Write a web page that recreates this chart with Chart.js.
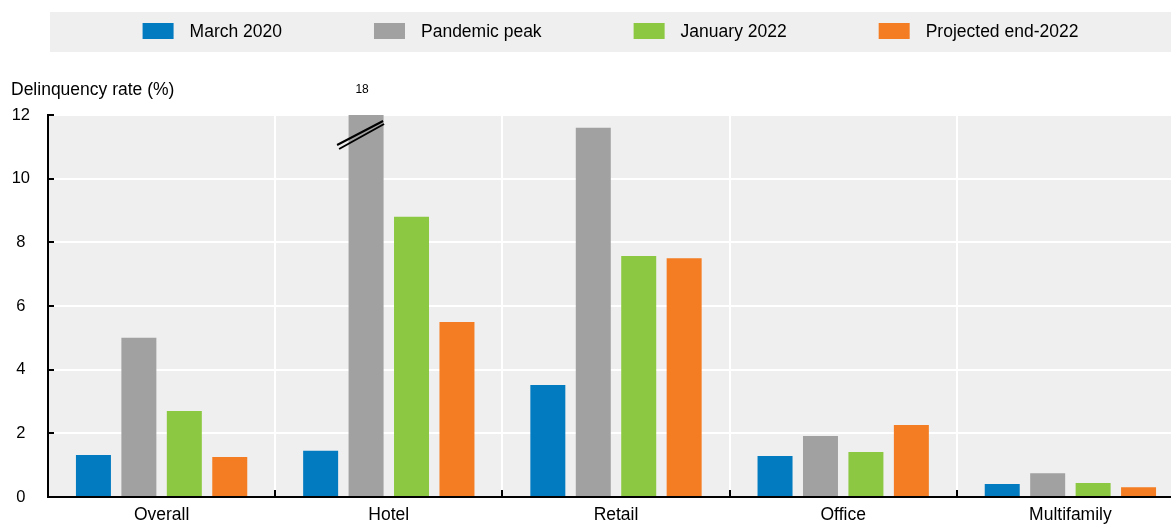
<!DOCTYPE html>
<html lang="en">
<head>
<meta charset="UTF-8">
<title>CRE delinquency</title>
<style>
  html, body { margin: 0; padding: 0; overflow: hidden; background: #fff; }
  #wrap { width: 1184px; height: 525px; }
</style>
</head>
<body>
<div id="wrap"><canvas id="myChart"></canvas></div>
<script src="https://cdn.jsdelivr.net/npm/chart.js"></script>
<script>
    // values
    var categories = ['Overall', 'Hotel', 'Retail', 'Office', 'Multifamily'];
    var march2020 = [1.32, 1.45, 3.52, 1.29, 0.41];
    var pandemicPeak = [5.0, 18, 11.6, 1.92, 0.75];
    var january2022 = [2.7, 8.8, 7.57, 1.41, 0.44];
    var projectedEnd2022 = [1.26, 5.5, 7.5, 2.26, 0.31];
    var yTicks = [0, 2, 4, 6, 8, 10, 12];

    var FONT = "'Liberation Sans', Arial, sans-serif";
    var FS = 17.5;
    Chart.defaults.font.family = FONT;
    Chart.defaults.color = '#000';

    // grey legend strip on top
    var legendBox = {
        id: 'legendBox',
        beforeDraw: function(chart) {
            var ctx = chart.ctx;
            var left = chart.chartArea.left + 2;
            ctx.save();
            ctx.fillStyle = '#efefef';
            ctx.fillRect(left, 12, chart.width - left, 40);
            ctx.font = FS + 'px ' + FONT;
            ctx.textBaseline = 'middle';
            var sw = 31, gapIn = 16, gapOut = 92;
            var sets = chart.data.datasets;
            var total = 0;
            sets.forEach(function(d, i) {
                total += sw + gapIn + ctx.measureText(d.label).width + (i < sets.length - 1 ? gapOut : 0);
            });
            var x = (left + 1171) / 2 - total / 2;
            sets.forEach(function(d) {
                ctx.fillStyle = d.backgroundColor;
                ctx.fillRect(x, 23, sw, 16);
                ctx.fillStyle = '#000';
                ctx.fillText(d.label, x + sw + gapIn, 32);
                x += sw + gapIn + ctx.measureText(d.label).width + gapOut;
            });
            ctx.restore();
        }
    };

    // inward tick marks on both axes, break marks + label for the clipped bar
    var extras = {
        id: 'extras',
        afterDatasetsDraw: function(chart) {
            var ctx = chart.ctx, ca = chart.chartArea;
            var ys = chart.scales.y, xs = chart.scales.x;
            ctx.save();
            ctx.strokeStyle = '#000';
            ctx.lineWidth = 2;
            ctx.beginPath();
            yTicks.forEach(function(t) {
                var py = Math.round(ys.getPixelForValue(t));
                ctx.moveTo(ca.left, py);
                ctx.lineTo(ca.left + 6, py);
            });
            for (var i = 1; i < categories.length; i++) {
                var px = Math.round((xs.getPixelForValue(i - 1) + xs.getPixelForValue(i)) / 2);
                ctx.moveTo(px, ca.bottom);
                ctx.lineTo(px, ca.bottom - 7);
            }
            ctx.stroke();

            // hotel pandemic peak goes off the scale
            var meta = chart.getDatasetMeta(1);
            pandemicPeak.forEach(function(v, i) {
                if (v <= ys.max) return;
                var bar = meta.data[i];
                ctx.lineWidth = 2;
                ctx.beginPath();
                ctx.moveTo(bar.x - 29, ca.top + 30);
                ctx.lineTo(bar.x + 17, ca.top + 6);
                ctx.moveTo(bar.x - 27, ca.top + 34);
                ctx.lineTo(bar.x + 18, ca.top + 9);
                ctx.stroke();
                ctx.fillStyle = '#000';
                ctx.font = '12px ' + FONT;
                ctx.textAlign = 'center';
                ctx.textBaseline = 'middle';
                ctx.fillText(String(v), bar.x - 4, ca.top - 25);
            });
            ctx.restore();
        }
    };

    var plotBg = {
        id: 'plotBg',
        beforeDraw: function(chart) {
            var ca = chart.chartArea, ctx = chart.ctx;
            ctx.save();
            ctx.fillStyle = '#efefef';
            ctx.fillRect(ca.left, ca.top, ca.right - ca.left, ca.bottom - ca.top);
            ctx.restore();
        }
    };

    var data = {
        labels: categories,
        datasets: [{
            label: 'March 2020',
            data: march2020,
            backgroundColor: '#037bc1'
        }, {
            label: 'Pandemic peak',
            data: pandemicPeak,
            backgroundColor: '#a1a1a1'
        }, {
            label: 'January 2022',
            data: january2022,
            backgroundColor: '#8cc841'
        }, {
            label: 'Projected end-2022',
            data: projectedEnd2022,
            backgroundColor: '#f47d23'
        }]
    };

    var config = {
        type: 'bar',
        data: data,
        options: {
            responsive: true,
            maintainAspectRatio: false,
            animation: false,
            layout: { padding: { left: 11, right: 0, top: 0, bottom: 0 } },
            datasets: {
                bar: { categoryPercentage: 0.8, barPercentage: 0.77 }
            },
            plugins: {
                legend: { display: false },
                tooltip: { enabled: false },
                title: {
                    display: true,
                    text: 'Delinquency rate (%)',
                    align: 'start',
                    color: '#000',
                    font: { size: FS, weight: 'normal', lineHeight: 1.2 },
                    padding: { top: 80, bottom: 14 }
                }
            },
            scales: {
                x: {
                    afterFit: function(scale) { scale.height = 28; },
                    grid: { color: '#fff', lineWidth: 2, offset: true, drawTicks: false },
                    border: { color: '#000', width: 2 },
                    ticks: { font: { size: FS, lineHeight: 1 }, padding: 9, color: '#000' }
                },
                y: {
                    min: 0,
                    max: 12,
                    afterBuildTicks: function(scale) {
                        scale.ticks = yTicks.map(function(v) { return { value: v }; });
                    },
                    afterFit: function(scale) { scale.width = 37; },
                    grid: { color: '#fff', lineWidth: 2, drawTicks: false },
                    border: { color: '#000', width: 2 },
                    ticks: { font: { size: 16.5 }, padding: 18, crossAlign: 'center', color: '#000' }
                }
            }
        },
        plugins: [plotBg, legendBox, extras]
    };

    var myChart = new Chart(document.getElementById('myChart'), config);
</script>
</body>
</html>
